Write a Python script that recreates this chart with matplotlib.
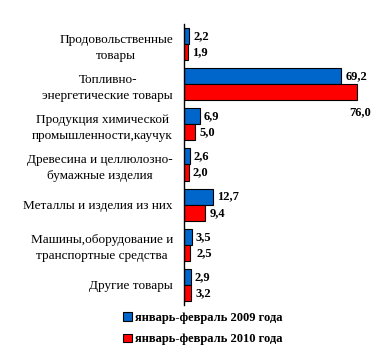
import numpy as np
import matplotlib.pyplot as plt

plt.rcParams['font.family'] = ['Liberation Serif', 'DejaVu Serif']

# Chart data
categories = [
    'Продовольственные\nтовары',
    'Топливно-\nэнергетические товары',
    'Продукция химической\nпромышленности,каучук',
    'Древесина и целлюлозно-\nбумажные изделия',
    'Металлы и изделия из них',
    'Машины,оборудование и\nтранспортные средства',
    'Другие товары',
]
values_2009 = [2.2, 69.2, 6.9, 2.6, 12.7, 3.5, 2.9]
values_2010 = [1.9, 76.0, 5.0, 2.0, 9.4, 2.5, 3.2]
series_labels = ['январь-февраль 2009 года', 'январь-февраль 2010 года']

blue = '#0066CC'
red = '#FF0000'

fig = plt.figure(figsize=(3.85, 3.53), dpi=100)
ax = fig.add_axes([0.478, 0.136, 0.472, 0.796])

y = np.arange(len(categories))
h = 0.4
b1 = ax.barh(y - h / 2, values_2009, height=h, color=blue, edgecolor='black',
             linewidth=0.8, label=series_labels[0])
b2 = ax.barh(y + h / 2, values_2010, height=h, color=red, edgecolor='black',
             linewidth=0.8, label=series_labels[1])

def fmt(v):
    return f'{v:.1f}'.replace('.', ',')

for rect, v in zip(b1, values_2009):
    ax.annotate(fmt(v), (rect.get_width(), rect.get_y() + rect.get_height() / 2),
                xytext=(4, 0), textcoords='offset pixels', va='center', ha='left',
                fontsize=9, fontweight='bold')

for i, (rect, v) in enumerate(zip(b2, values_2010)):
    off = (4, 0)
    if i == 1:
        off = (-7, -20)   # label under the long bar
    elif i == 5:
        off = (7, 0)
    ax.annotate(fmt(v), (rect.get_width(), rect.get_y() + rect.get_height() / 2),
                xytext=off, textcoords='offset pixels', va='center', ha='left',
                fontsize=9, fontweight='bold')

ax.set_xlim(0, 80)
ax.set_ylim(len(categories) - 0.5, -0.5)
ax.set_yticks(y)
ax.set_yticklabels(categories, fontsize=9.5, multialignment='center', linespacing=1.45)
ax.tick_params(axis='y', length=0, pad=8)
ax.set_xticks([])
for s in ['top', 'right', 'bottom']:
    ax.spines[s].set_visible(False)
ax.spines['left'].set_linewidth(1.0)

fig.legend(handles=[b1, b2], labels=series_labels, loc='upper left',
           bbox_to_anchor=(0.29, 0.148), frameon=False, handlelength=0.7,
           handleheight=0.7, handletextpad=0.3, labelspacing=0.75,
           prop={'weight': 'bold', 'size': 9})

fig.savefig('out.png', dpi=100)
